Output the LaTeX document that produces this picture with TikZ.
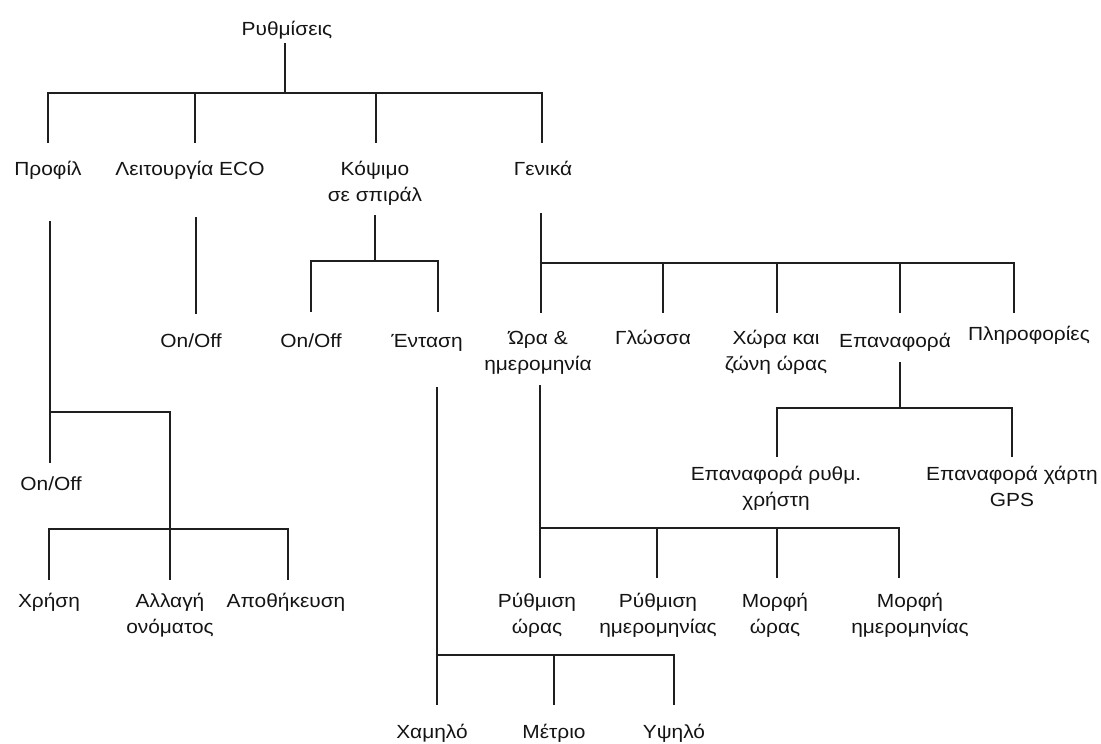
\documentclass[tikz,border=0pt]{standalone}
\usepackage{fontspec}
\setmainfont{Liberation Sans}[FakeStretch=1.1]
\newcommand\fs{\rule{0pt}{16pt}}
\begin{document}
\begin{tikzpicture}[x=1pt,y=-1pt,
  lbl/.style={anchor=north,inner sep=0pt,align=center,text=black!92,
    font=\fontsize{19}{26}\selectfont},
  conn/.style={line width=1.9pt,draw=black!88}]
\useasboundingbox (0,0) rectangle (1101,744);
% labels (x = centre, y = first baseline - 16)
\node[lbl] (root) at (287,19) {\fs Ρυθμίσεις};
\node[lbl] (prof) at (48,159) {\fs Προφίλ};
\node[lbl] (eco) at (190,159) {\fs Λειτουργία ECO};
\node[lbl] (kop) at (375,159) {\fs Κόψιμο\\σε σπιράλ};
\node[lbl] (gen) at (543,159) {\fs Γενικά};
\node[lbl] (ecoOn) at (191,331) {\fs On/Off};
\node[lbl] (kOn) at (311,331) {\fs On/Off};
\node[lbl] (ent) at (427,331) {\fs Ένταση};
\node[lbl] (ora) at (538,328) {\fs Ώρα \&\\ημερομηνία};
\node[lbl] (glo) at (653,328) {\fs Γλώσσα};
\node[lbl] (xora) at (776,328) {\fs Χώρα και\\ζώνη ώρας};
\node[lbl] (epan) at (895,331) {\fs Επαναφορά};
\node[lbl] (plir) at (1029,324) {\fs Πληροφορίες};
\node[lbl] (eprx) at (776,464) {\fs Επαναφορά ρυθμ.\\χρήστη};
\node[lbl] (epgps) at (1012,464) {\fs Επαναφορά χάρτη\\GPS};
\node[lbl] (pOn) at (51,474) {\fs On/Off};
\node[lbl] (xrisi) at (49,591) {\fs Χρήση};
\node[lbl] (allagi) at (170,591) {\fs Αλλαγή\\ονόματος};
\node[lbl] (apoth) at (286,591) {\fs Αποθήκευση};
\node[lbl] (rora) at (537,591) {\fs Ρύθμιση\\ώρας};
\node[lbl] (rhm) at (658,591) {\fs Ρύθμιση\\ημερομηνίας};
\node[lbl] (mora) at (775,591) {\fs Μορφή\\ώρας};
\node[lbl] (mhm) at (910,591) {\fs Μορφή\\ημερομηνίας};
\node[lbl] (low) at (432,722) {\fs Χαμηλό};
\node[lbl] (mid) at (554,722) {\fs Μέτριο};
\node[lbl] (high) at (674,722) {\fs Υψηλό};
% connectors
% root
\coordinate (rootT) at (285,43);
\coordinate (rootJ) at (285,93);
\draw[conn] (rootT) -- (rootJ);
\draw[conn] (48,143) -- (48,93) -- (542,93) -- (542,143);
\draw[conn] (195,93) -- (195,143);
\draw[conn] (376,93) -- (376,143);
% Profile
\draw[conn] (50,221) -- (50,463);
\draw[conn] (50,412) -- (170,412) -- (170,529);
\draw[conn] (49,580) -- (49,529) -- (288,529) -- (288,580);
\draw[conn] (170,529) -- (170,580);
% ECO
\draw[conn] (196,217) -- (196,314);
% spiral cut
\draw[conn] (375,215) -- (375,261);
\draw[conn] (311,312) -- (311,261) -- (438,261) -- (438,312);
% intensity
\draw[conn] (437,387) -- (437,705);
\draw[conn] (437,655) -- (674,655) -- (674,705);
\draw[conn] (554,655) -- (554,705);
% general
\draw[conn] (541,213) -- (541,313);
\draw[conn] (541,263) -- (1014,263) -- (1014,313);
\draw[conn] (663,263) -- (663,313);
\draw[conn] (777,263) -- (777,313);
\draw[conn] (900,263) -- (900,313);
% reset
\draw[conn] (900,362) -- (900,408);
\draw[conn] (777,457) -- (777,408) -- (1012,408) -- (1012,457);
% time & date
\draw[conn] (540,385) -- (540,578);
\draw[conn] (540,528) -- (899,528) -- (899,578);
\draw[conn] (657,528) -- (657,578);
\draw[conn] (777,528) -- (777,578);
\end{tikzpicture}
\end{document}
